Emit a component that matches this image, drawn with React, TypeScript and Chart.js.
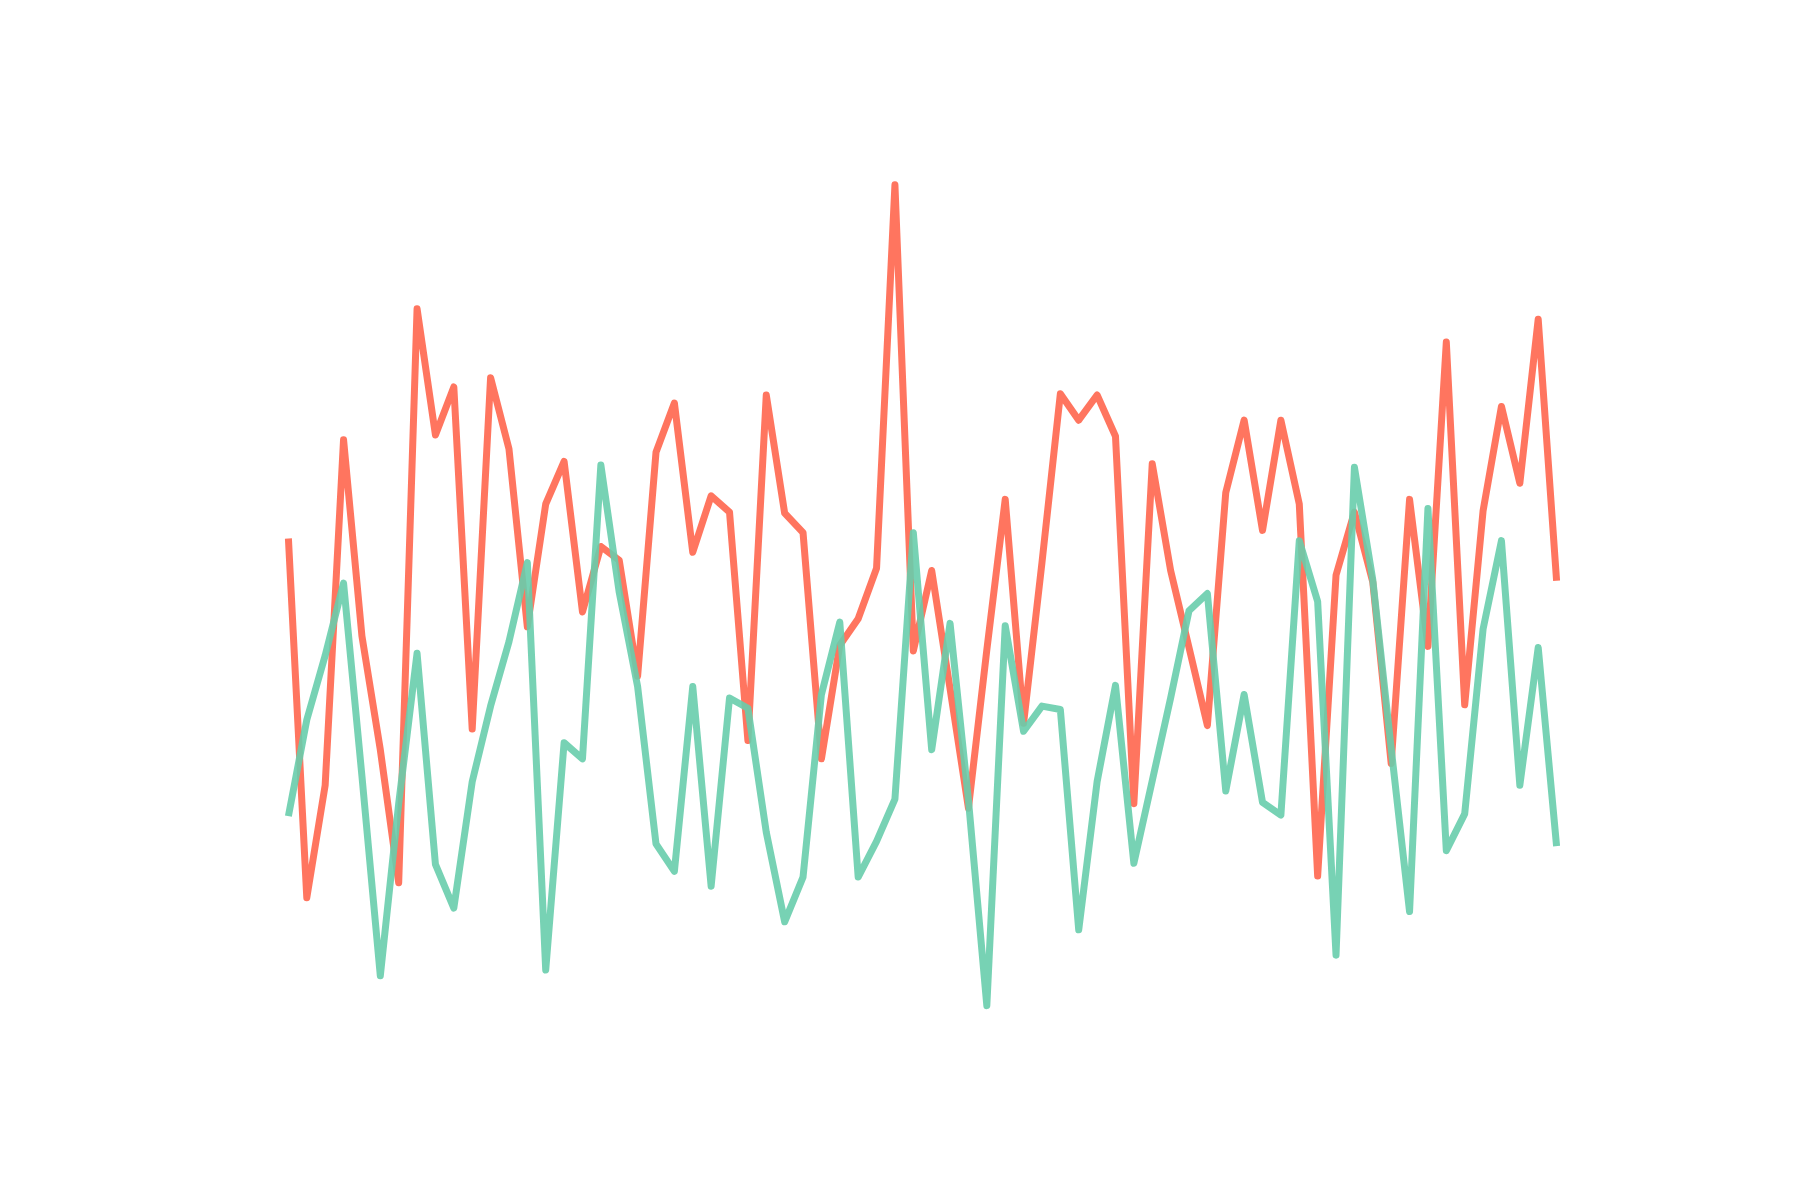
import React, { useEffect, useRef } from "react";
import { Chart, registerables } from "chart.js";

Chart.register(...registerables);

const indices: number[] = Array.from({ length: 70 }, (_, i) => i);

const seriesA: number[] = [
  57.31, 18.43, 30.6, 68.0, 46.75, 34.45, 20.04, 82.16, 68.5, 73.71,
  36.69, 74.71, 67.0, 47.75, 61.04, 65.64, 49.36, 56.44, 54.95, 42.41,
  66.63, 71.97, 55.82, 61.91, 60.17, 35.45, 72.84, 60.05, 57.94, 33.46,
  45.76, 48.62, 54.08, 95.58, 45.14, 53.84, 41.04, 28.12, 45.26, 61.54,
  37.31, 54.7, 72.97, 70.11, 72.84, 68.37, 28.61, 65.39, 53.84, 45.51,
  37.06, 62.28, 70.11, 58.18, 70.11, 61.04, 20.78, 53.34, 60.17, 52.59,
  32.96, 61.54, 45.63, 78.56, 39.3, 60.3, 71.6, 63.28, 81.04, 52.72,
];

const seriesB: number[] = [
  27.25, 37.68, 44.64, 52.47, 31.6, 9.98, 28.61, 44.89, 22.03, 17.31,
  30.98, 39.17, 46.13, 54.7, 10.6, 35.2, 33.46, 65.26, 51.47, 41.29,
  24.26, 21.28, 41.29, 19.67, 40.04, 38.93, 25.51, 15.82, 20.66, 40.42,
  48.25, 20.66, 24.52, 29.11, 57.94, 34.45, 48.12, 28.99, 6.75, 47.87,
  36.44, 39.17, 38.8, 14.95, 30.98, 41.41, 22.15, 31.1, 40.04, 49.49,
  51.35, 29.98, 40.42, 28.74, 27.37, 57.07, 50.48, 12.21, 65.02, 52.84,
  34.58, 16.93, 60.55, 23.52, 27.5, 47.5, 57.07, 30.6, 45.51, 24.02,
];

const colorA = "rgba(255, 110, 86, 0.95)";
const colorB = "rgba(104, 205, 172, 0.9)";

export default function App() {
  const ref = useRef<HTMLCanvasElement | null>(null);

  useEffect(() => {
    if (!ref.current) return;
    const n = indices.length - 1;
    const chart = new Chart(ref.current, {
      type: "line",
      data: {
        datasets: [
          {
            label: "A",
            data: indices.map((x, i) => ({ x, y: seriesA[i] })),
            borderColor: colorA,
            borderWidth: 7,
            pointRadius: 0,
            tension: 0,
            fill: false,
            borderJoinStyle: "round",
            borderCapStyle: "butt",
            order: 1,
          },
          {
            label: "B",
            data: indices.map((x, i) => ({ x, y: seriesB[i] })),
            borderColor: colorB,
            borderWidth: 7,
            pointRadius: 0,
            tension: 0,
            fill: false,
            borderJoinStyle: "round",
            borderCapStyle: "butt",
            order: 0,
          },
        ],
      },
      options: {
        responsive: false,
        animation: false,
        layout: { padding: { left: 225, right: 180, top: 144, bottom: 132 } },
        plugins: { legend: { display: false }, tooltip: { enabled: false } },
        scales: {
          x: { type: "linear", display: false, min: -0.05 * n, max: n * 1.05 },
          y: { type: "linear", display: false, min: 0, max: 100 },
        },
      },
    });
    return () => chart.destroy();
  }, []);

  return (
    <div style={{ position: "absolute", left: 0, top: 0, width: 1800, height: 1200, background: "#ffffff" }}>
      <canvas ref={ref} width={1800} height={1200} style={{ width: 1800, height: 1200 }} />
    </div>
  );
}
